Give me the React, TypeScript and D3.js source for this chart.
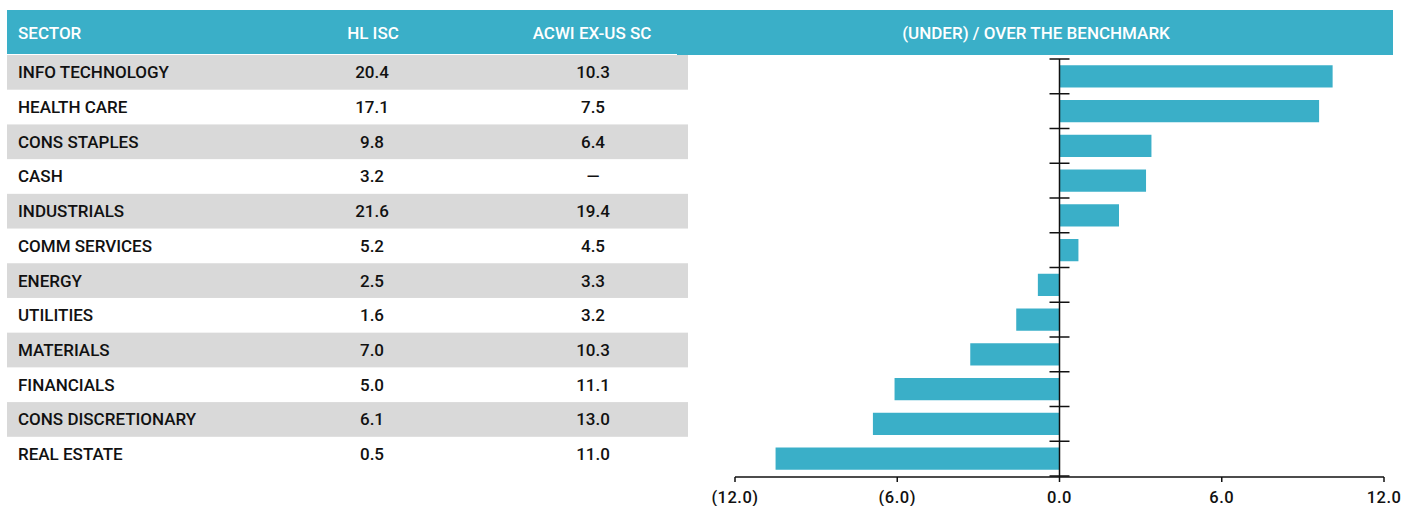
import { scaleBand, scaleLinear } from "d3";

const W = 1402;
const H = 506;

const sectors = [
  "INFO TECHNOLOGY",
  "HEALTH CARE",
  "CONS STAPLES",
  "CASH",
  "INDUSTRIALS",
  "COMM SERVICES",
  "ENERGY",
  "UTILITIES",
  "MATERIALS",
  "FINANCIALS",
  "CONS DISCRETIONARY",
  "REAL ESTATE",
];
const hlIsc = ["20.4", "17.1", "9.8", "3.2", "21.6", "5.2", "2.5", "1.6", "7.0", "5.0", "6.1", "0.5"];
const acwi = ["10.3", "7.5", "6.4", "—", "19.4", "4.5", "3.3", "3.2", "10.3", "11.1", "13.0", "11.0"];
const diff = [10.1, 9.6, 3.4, 3.2, 2.2, 0.7, -0.8, -1.6, -3.3, -6.1, -6.9, -10.5];
const xTicks = [-12, -6, 0, 6, 12];

const BLUE = "#3aafc8";
const GREY = "#d9d9d9";
const FONT = "Roboto, 'DejaVu Sans', sans-serif";

const fmt = (v: number) => (v < 0 ? `(${Math.abs(v).toFixed(1)})` : v.toFixed(1));

export default function App() {
  const rows = scaleBand<string>().domain(sectors).range([55, 471.5]);
  const x = scaleLinear().domain([-12, 12]).range([735, 1384]);
  const yb = scaleBand<string>().domain(sectors).range([59, 476]).paddingInner(0.36).paddingOuter(0.18);
  const bandEdges = scaleBand<string>().domain(sectors).range([59, 476]);
  const axisY = 477;

  return (
    <svg
      width={W}
      height={H}
      viewBox={`0 0 ${W} ${H}`}
      style={{ position: "absolute", left: 0, top: 0, background: "#fff" }}
      fontFamily={FONT}
    >
      {/* header band */}
      <rect x={7} y={10} width={1386} height={44} fill={BLUE} />
      <rect x={677} y={50} width={716} height={5} fill={BLUE} />
      <g fill="#fff" fontSize={17} fontWeight={500}>
        <text x={18} y={33} dy="0.35em">SECTOR</text>
        <text x={373} y={33} dy="0.35em" textAnchor="middle">HL ISC</text>
        <text x={592} y={33} dy="0.35em" textAnchor="middle">ACWI EX-US SC</text>
        <text x={1036} y={33} dy="0.35em" textAnchor="middle">(UNDER) / OVER THE BENCHMARK</text>
      </g>

      {/* table rows */}
      {sectors.map((s, i) => {
        const y0 = rows(s)!;
        const cy = y0 + rows.bandwidth() / 2;
        return (
          <g key={s}>
            {i % 2 === 0 && <rect x={7} y={y0} width={681} height={rows.bandwidth()} fill={GREY} />}
            <g fill="#111" fontSize={17} fontWeight={500}>
              <text x={18} y={cy} dy="0.35em">{s}</text>
              <text x={372} y={cy} dy="0.35em" textAnchor="middle">{hlIsc[i]}</text>
              <text x={593} y={cy} dy="0.35em" textAnchor="middle">{acwi[i]}</text>
            </g>
          </g>
        );
      })}

      {/* bars */}
      {sectors.map((s, i) => (
        <rect
          key={s}
          x={Math.min(x(0), x(diff[i]))}
          y={yb(s)}
          width={Math.abs(x(diff[i]) - x(0))}
          height={yb.bandwidth()}
          fill={BLUE}
        />
      ))}

      {/* vertical axis with category ticks */}
      <line x1={x(0)} x2={x(0)} y1={59} y2={axisY} stroke="#111" strokeWidth={1.5} />
      {sectors.map((s) => (
        <line key={s} x1={x(0) - 10} x2={x(0) + 10} y1={bandEdges(s)} y2={bandEdges(s)} stroke="#111" strokeWidth={1.5} />
      ))}
      <line x1={x(0) - 10} x2={x(0) + 10} y1={476} y2={476} stroke="#111" strokeWidth={1.5} />

      {/* x axis */}
      <line x1={x(-12)} x2={x(12)} y1={axisY} y2={axisY} stroke="#111" strokeWidth={1.5} />
      {xTicks.map((t) => (
        <g key={t}>
          <line x1={x(t)} x2={x(t)} y1={axisY} y2={axisY + 5} stroke="#111" strokeWidth={1.5} />
          <text x={x(t)} y={497} dy="0.35em" textAnchor="middle" fontSize={16.5} fontWeight={500} fill="#111" letterSpacing={0.5}>
            {fmt(t)}
          </text>
        </g>
      ))}
    </svg>
  );
}
